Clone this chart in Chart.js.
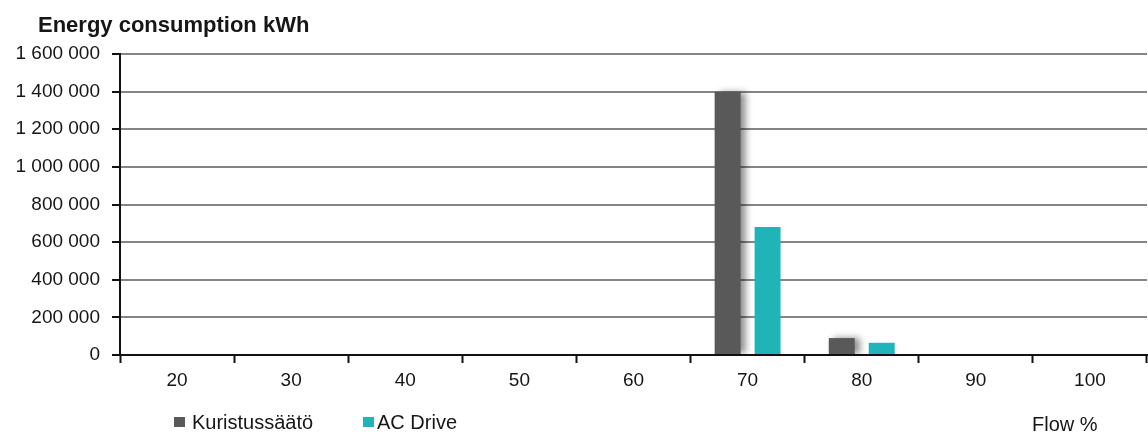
<!DOCTYPE html>
<html>
<head>
<meta charset="utf-8">
<script src="https://cdn.jsdelivr.net/npm/chart.js@4.4.1/dist/chart.umd.min.js"></script>
<style>
  html, body { margin: 0; padding: 0; background: #ffffff; }
  #wrap { width: 1148px; height: 434px; position: relative; }
</style>
</head>
<body>
<div id="wrap"><canvas id="c" width="1148" height="434"></canvas></div>
<script>
// Flow levels (%) on the category axis
const flowLevels = ['20', '30', '40', '50', '60', '70', '80', '90', '100'];
// Annual energy consumption, kWh
const throttleKWh = [0, 0, 0, 0, 0, 1400000, 90000, 0, 0];
const acDriveKWh  = [0, 0, 0, 0, 0, 680000, 65000, 0, 0];
const seriesNames = ['Kuristussäätö', 'AC Drive'];
const seriesColors = ['#595959', '#1fb4b8'];
const yTickValues = [0, 200000, 400000, 600000, 800000, 1000000, 1200000, 1400000, 1600000];
const chartTitle = 'Energy consumption kWh';
const xAxisTitle = 'Flow %';

const FONT = '"Liberation Sans", Arial, sans-serif';

function fmtSpaces(v) {
  return String(v).replace(/\B(?=(\d{3})+(?!\d))/g, ' ');
}

// soft drop shadow behind the throttling bars
const barShadow = {
  id: 'barShadow',
  beforeDatasetDraw(chart, args) {
    if (args.index !== 0) return;
    const ctx = chart.ctx;
    ctx.save();
    ctx.shadowColor = 'rgba(0,0,0,0.45)';
    ctx.shadowBlur = 7;
    ctx.shadowOffsetX = 5;
    ctx.shadowOffsetY = 0;
  },
  afterDatasetDraw(chart, args) {
    if (args.index !== 0) return;
    chart.ctx.restore();
  }
};

// title, legend and axis caption
const annotations = {
  id: 'annotations',
  afterDraw(chart) {
    const ctx = chart.ctx;
    ctx.save();
    ctx.fillStyle = '#161616';
    ctx.textBaseline = 'alphabetic';
    ctx.textAlign = 'left';
    ctx.font = 'bold 22px ' + FONT;
    ctx.fillText(chartTitle, 38, 32);

    ctx.font = '20px ' + FONT;
    const boxX = [174, 363];
    const textX = [192, 377];
    chart.data.datasets.forEach((ds, i) => {
      ctx.fillStyle = ds.backgroundColor;
      ctx.fillRect(boxX[i], 417, 11, 10);
      ctx.fillStyle = '#161616';
      ctx.fillText(ds.label, textX[i], 429);
    });
    ctx.fillText(xAxisTitle, 1032, 431);
    ctx.restore();
  }
};

new Chart(document.getElementById('c'), {
  type: 'bar',
  data: {
    labels: flowLevels,
    datasets: [
      { label: seriesNames[0], data: throttleKWh, backgroundColor: seriesColors[0] },
      { label: seriesNames[1], data: acDriveKWh, backgroundColor: seriesColors[1] }
    ]
  },
  options: {
    responsive: false,
    animation: false,
    devicePixelRatio: 1,
    categoryPercentage: 0.70,
    barPercentage: 0.65,
    layout: { padding: { top: 54, right: 1, bottom: 0, left: 0 } },
    plugins: {
      legend: { display: false },
      title: { display: false },
      tooltip: { enabled: false }
    },
    scales: {
      x: {
        grid: {
          offset: true,
          drawOnChartArea: false,
          drawTicks: true,
          tickLength: 8,
          tickColor: '#111',
          tickWidth: 2
        },
        border: { display: true, color: '#111', width: 2 },
        ticks: {
          color: '#161616',
          font: { family: FONT, size: 19 },
          padding: 6,
          maxRotation: 0
        },
        afterFit(scale) { scale.height = 79; }
      },
      y: {
        min: 0,
        max: 1600000,
        afterBuildTicks(scale) {
          scale.ticks = yTickValues.map(v => ({ value: v }));
        },
        grid: {
          color: ctx => (ctx.tick && ctx.tick.value === 0) ? '#111' : '#858585',
          lineWidth: 2,
          drawTicks: true,
          tickLength: 8,
          tickColor: '#111',
          tickWidth: 2
        },
        border: { display: true, color: '#111', width: 2 },
        ticks: {
          color: '#161616',
          font: { family: FONT, size: 19 },
          padding: 12,
          callback: v => fmtSpaces(v)
        },
        afterFit(scale) { scale.width = 120; }
      }
    }
  },
  plugins: [barShadow, annotations]
});
</script>
</body>
</html>
